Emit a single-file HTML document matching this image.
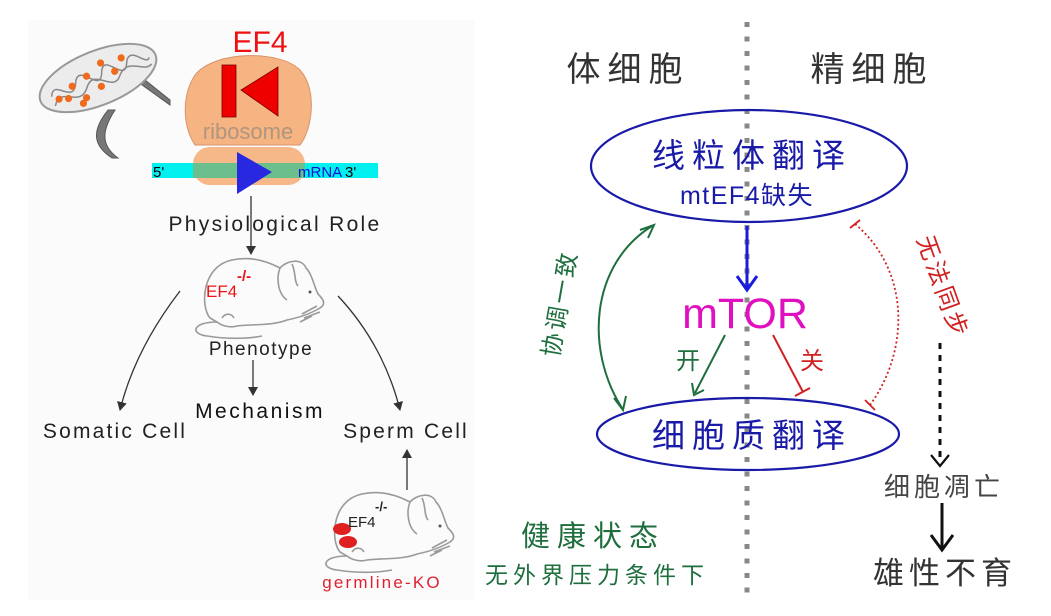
<!DOCTYPE html>
<html><head><meta charset="utf-8"><style>
html,body{margin:0;padding:0;background:#fff;width:1051px;height:616px;overflow:hidden}
svg{display:block}
.s{font-family:"Liberation Sans",Arial,sans-serif}
.c{font-family:"Liberation Sans","Noto Sans CJK SC",sans-serif}
</style></head><body>
<svg width="1051" height="616" viewBox="0 0 1051 616" xmlns="http://www.w3.org/2000/svg">
<defs>
<marker id="ak" markerWidth="10" markerHeight="10" refX="8" refY="5" orient="auto" markerUnits="userSpaceOnUse"><path d="M0,0 L9,5 L0,10 Z" fill="#333"/></marker>
<g id="mouse" fill="none" stroke="#9a9a9a" stroke-width="1.6">
<path d="M18,62 C8,50 10,10 40,4 C58,0 75,5 88,12 C95,4 110,2 114,12 C120,18 122,30 126,38 C132,44 134,48 128,52 C118,58 105,62 95,64 C80,70 60,68 45,70 C38,72 30,70 25,66 Z"/>
<path d="M88,12 C84,22 86,38 95,44"/>
<path d="M100,8 C104,16 102,26 106,30"/>
<path d="M25,66 C0,66 -2,78 15,80 C40,84 60,82 70,80"/>
<path d="M110,58 L125,50 M112,62 L128,56 M108,66 L120,60"/>
<path d="M30,62 C34,56 40,58 42,62"/>
<circle cx="118" cy="36" r="1.5" fill="#555" stroke="none"/>
</g>
</defs>

<rect x="28" y="20" width="446" height="580" fill="#fbfbfb"/>

<!-- mitochondrion -->
<path d="M138,82 L170,105 L170,100 L140,76 Z" fill="#777" stroke="#555"/>
<g transform="translate(98,78) rotate(-22)">
<ellipse cx="0" cy="0" rx="62" ry="27" fill="#ececec" stroke="#999" stroke-width="2"/>
<path d="M-50,0 C-42,-18 -32,18 -22,-5 C-12,-22 -3,18 6,-5 C15,-22 24,18 33,-5 C42,-18 50,8 55,0" fill="none" stroke="#888" stroke-width="1.5"/>
<path d="M-50,10 C-38,-8 -28,22 -14,5 C0,-13 9,22 22,5 C36,-8 45,13 55,7" fill="none" stroke="#888" stroke-width="1.5"/>
<g fill="#ef6a1a"><circle cx="-44" cy="5" r="3.6"/><circle cx="-35" cy="8" r="3.6"/><circle cx="-27" cy="-2" r="3.6"/><circle cx="-18" cy="14" r="3.6"/><circle cx="-10" cy="-6" r="3.6"/><circle cx="0" cy="9" r="3.6"/><circle cx="8" cy="-13" r="3.6"/><circle cx="18" cy="0" r="3.6"/><circle cx="29" cy="-10" r="3.6"/><circle cx="-23" cy="18" r="3.6"/></g>
</g>
<path d="M108,110 C92,130 92,145 112,158 L118,158 C100,145 102,130 115,110 Z" fill="#777" stroke="#555"/>

<!-- ribosome -->
<path d="M195,75 C215,50 280,50 300,70 C318,90 312,130 300,145 L195,145 C182,125 182,95 195,75 Z" fill="#f6b482" stroke="#d9926a" stroke-width="1"/>
<rect x="193" y="147" width="112" height="38" rx="17" fill="#f6b482" opacity="0.95"/>
<rect x="152" y="163" width="226" height="15" fill="#00f0f0"/>
<rect x="193" y="163" width="112" height="15" fill="#6bbf8c"/>
<rect x="222" y="65" width="14" height="52" fill="#ee0000" stroke="#700" stroke-width="0.8"/>
<path d="M278,67 L241,90 L278,116 Z" fill="#ee0000" stroke="#700" stroke-width="0.8"/>
<text x="248" y="139" font-size="22" fill="#b0957f" text-anchor="middle" class="s">ribosome</text>
<path d="M237,152 L272,172 L237,194 Z" fill="#2828e0"/>
<text x="153" y="177" font-size="15" fill="#000" class="s">5'</text>
<text x="298" y="177" font-size="15" fill="#1010d0" class="s">mRNA</text>
<text x="345" y="177" font-size="15" fill="#000" class="s">3'</text>
<text x="260" y="52" font-size="30" fill="#ee1111" text-anchor="middle" class="s">EF4</text>

<line x1="251" y1="196" x2="251" y2="254" stroke="#333" stroke-width="1.3" marker-end="url(#ak)"/>
<text x="275" y="231" font-size="21" fill="#222" text-anchor="middle" letter-spacing="2.3" class="s">Physiological Role</text>

<use href="#mouse" transform="translate(192,256)"/>
<text x="206" y="297" font-size="17" fill="#ee1111" class="s">EF4</text>
<text x="237" y="281" font-size="15" fill="#ee1111" font-weight="bold" class="s">-/-</text>
<text x="261" y="355" font-size="19" fill="#222" text-anchor="middle" letter-spacing="1.5" class="s">Phenotype</text>
<line x1="253" y1="360" x2="253" y2="395" stroke="#333" stroke-width="1.3" marker-end="url(#ak)"/>
<text x="260" y="418" font-size="21" fill="#111" text-anchor="middle" letter-spacing="2.5" class="s">Mechanism</text>
<path d="M180,291 C150,330 130,370 120,410" fill="none" stroke="#333" stroke-width="1.3" marker-end="url(#ak)"/>
<text x="115" y="438" font-size="21" fill="#222" text-anchor="middle" letter-spacing="2.2" class="s">Somatic Cell</text>
<path d="M338,296 C370,330 390,370 400,410" fill="none" stroke="#333" stroke-width="1.3" marker-end="url(#ak)"/>
<text x="406" y="438" font-size="21" fill="#222" text-anchor="middle" letter-spacing="2.2" class="s">Sperm Cell</text>
<line x1="407" y1="490" x2="407" y2="450" stroke="#333" stroke-width="1.3" marker-end="url(#ak)"/>

<use href="#mouse" transform="translate(322,490)"/>
<ellipse cx="342" cy="529" rx="9" ry="6" fill="#e02020"/>
<ellipse cx="348" cy="542" rx="9" ry="6" fill="#e02020"/>
<text x="348" y="527" font-size="15" fill="#222" class="s">EF4</text>
<text x="375" y="511" font-size="13" fill="#222" font-weight="bold" class="s">-/-</text>
<text x="382" y="588" font-size="17" fill="#e02030" text-anchor="middle" letter-spacing="2.2" class="s">germline-KO</text>

<!-- right side -->
<line x1="747" y1="22" x2="747" y2="600" stroke="#888" stroke-width="5" stroke-dasharray="5,9.5"/>
<text x="628" y="81" font-size="34" fill="#333" text-anchor="middle" letter-spacing="7" class="c">体细胞</text>
<text x="872" y="81" font-size="34" fill="#333" text-anchor="middle" letter-spacing="7" class="c">精细胞</text>

<ellipse cx="749" cy="166" rx="158" ry="56" fill="none" stroke="#1a1aa8" stroke-width="2.2"/>
<text x="752" y="167" font-size="33" fill="#1a1aa8" text-anchor="middle" letter-spacing="7" class="c">线粒体翻译</text>
<text x="747" y="204" font-size="25" fill="#1a1aa8" text-anchor="middle" letter-spacing="1.5" class="c">mtEF4缺失</text>

<line x1="747" y1="226" x2="747" y2="288" stroke="#1a1ae0" stroke-width="3"/>
<path d="M737,276 L747,290 L757,276" fill="none" stroke="#1a1ae0" stroke-width="3"/>
<text x="745" y="328" font-size="43" fill="#e010c0" text-anchor="middle" class="s">mTOR</text>

<path d="M725,335 L695,393" stroke="#1e6e3e" stroke-width="2" fill="none"/>
<path d="M692,383 L694,395 L704,390" stroke="#1e6e3e" stroke-width="2" fill="none"/>
<text x="688" y="369" font-size="24" fill="#1e6e3e" text-anchor="middle" class="c">开</text>
<path d="M773,335 L803,392" stroke="#d02020" stroke-width="2" fill="none"/>
<line x1="795" y1="396" x2="810" y2="388" stroke="#d02020" stroke-width="2"/>
<text x="812" y="369" font-size="24" fill="#d02020" text-anchor="middle" class="c">关</text>

<path d="M652,226 C590,265 585,350 622,408" fill="none" stroke="#1e6e3e" stroke-width="2"/>
<path d="M640,230 L654,225 L648,238" fill="none" stroke="#1e6e3e" stroke-width="2"/>
<path d="M614,398 L623,410 L626,396" fill="none" stroke="#1e6e3e" stroke-width="2"/>
<text transform="translate(568,305) rotate(-80)" font-size="24" fill="#1e6e3e" text-anchor="middle" letter-spacing="3" class="c">协调一致</text>

<ellipse cx="748" cy="434" rx="151" ry="36" fill="none" stroke="#1a1aa8" stroke-width="2.2"/>
<text x="752" y="447" font-size="33" fill="#1a1aa8" text-anchor="middle" letter-spacing="7" class="c">细胞质翻译</text>

<path d="M855,224 C910,270 910,350 870,405" fill="none" stroke="#d02020" stroke-width="1.8" stroke-dasharray="2,2.5"/>
<line x1="850" y1="228" x2="860" y2="220" stroke="#d02020" stroke-width="1.8"/>
<line x1="865" y1="400" x2="875" y2="410" stroke="#d02020" stroke-width="1.8"/>
<text transform="translate(935,290) rotate(70)" font-size="24" fill="#d02020" text-anchor="middle" letter-spacing="3" class="c">无法同步</text>

<line x1="940" y1="343" x2="940" y2="462" stroke="#111" stroke-width="3" stroke-dasharray="6,6"/>
<path d="M931,455 L940,466 L949,455" fill="none" stroke="#111" stroke-width="2.2"/>
<text x="944" y="496" font-size="26" fill="#444" text-anchor="middle" letter-spacing="4" class="c">细胞凋亡</text>
<line x1="942" y1="503" x2="942" y2="548" stroke="#111" stroke-width="3"/>
<path d="M931,535 L942,550 L953,535" fill="none" stroke="#111" stroke-width="3"/>
<text x="945" y="584" font-size="31" fill="#333" text-anchor="middle" letter-spacing="5" class="c">雄性不育</text>

<text x="593" y="546" font-size="29" fill="#1e6e3e" text-anchor="middle" letter-spacing="7" class="c">健康状态</text>
<text x="597" y="583" font-size="23" fill="#1e6e3e" text-anchor="middle" letter-spacing="5" class="c">无外界压力条件下</text>
</svg>
</body></html>
